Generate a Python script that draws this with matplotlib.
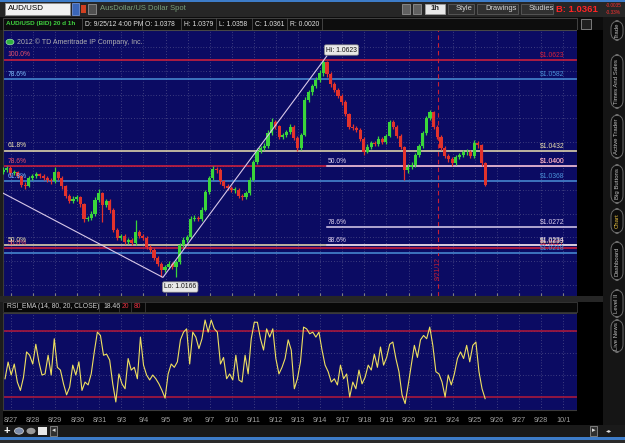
import numpy as np
import matplotlib
matplotlib.use("Agg")
import matplotlib.pyplot as plt
from matplotlib.patches import Rectangle, FancyBboxPatch, Circle
from matplotlib.lines import Line2D

W, H = 625, 443

# AUD/USD at 4h steps, price x 10000
closes = [
    10392, 10396, 10385, 10387, 10379, 10360, 10358, 10375, 10379, 10383,
    10379, 10375, 10371, 10368, 10387, 10375, 10358, 10337, 10327, 10331,
    10335, 10320, 10289, 10291, 10299, 10329, 10343, 10318, 10326, 10308,
    10266, 10249, 10253, 10240, 10244, 10238, 10261, 10253, 10249, 10230,
    10224, 10207, 10195, 10182, 10188, 10195, 10188, 10198, 10234, 10245,
    10251, 10289, 10291, 10289, 10308, 10345, 10375, 10394, 10392, 10368,
    10358, 10354, 10350, 10350, 10337, 10335, 10343, 10371, 10408, 10432,
    10438, 10442, 10469, 10492, 10484, 10461, 10465, 10471, 10482, 10459,
    10438, 10465, 10539, 10555, 10568, 10581, 10595, 10618, 10593, 10572,
    10560, 10547, 10534, 10509, 10482, 10480, 10476, 10457, 10430, 10440,
    10448, 10446, 10457, 10451, 10463, 10492, 10482, 10463, 10440, 10392,
    10398, 10402, 10423, 10442, 10469, 10501, 10513, 10482, 10461, 10438,
    10421, 10415, 10406, 10419, 10423, 10429, 10429, 10421, 10448, 10444,
    10406, 10361,
]
highs = [
    10398, 10401, 10399, 10392, 10390, 10382, 10366, 10379, 10384, 10388,
    10386, 10383, 10379, 10375, 10398, 10390, 10378, 10361, 10341, 10336,
    10340, 10338, 10323, 10296, 10305, 10334, 10352, 10346, 10331, 10330,
    10311, 10270, 10258, 10257, 10249, 10248, 10286, 10265, 10258, 10252,
    10234, 10228, 10210, 10198, 10193, 10200, 10199, 10203, 10238, 10250,
    10256, 10294, 10297, 10295, 10313, 10350, 10380, 10401, 10398, 10395,
    10371, 10362, 10358, 10356, 10354, 10341, 10348, 10376, 10413, 10437,
    10443, 10448, 10475, 10500, 10496, 10487, 10470, 10476, 10488, 10486,
    10462, 10470, 10544, 10560, 10573, 10586, 10601, 10623, 10621, 10597,
    10576, 10564, 10551, 10538, 10512, 10488, 10485, 10480, 10461, 10446,
    10453, 10452, 10462, 10461, 10468, 10497, 10496, 10486, 10467, 10443,
    10404, 10408, 10428, 10447, 10474, 10506, 10518, 10516, 10486, 10465,
    10442, 10425, 10419, 10424, 10428, 10434, 10435, 10433, 10455, 10452,
    10447, 10409,
]
lows = [
    10383, 10388, 10380, 10381, 10374, 10355, 10352, 10355, 10371, 10375,
    10374, 10370, 10366, 10362, 10365, 10370, 10352, 10332, 10322, 10323,
    10327, 10314, 10283, 10284, 10287, 10296, 10325, 10282, 10313, 10302,
    10261, 10244, 10245, 10236, 10236, 10233, 10235, 10248, 10244, 10225,
    10219, 10202, 10189, 10166, 10177, 10184, 10183, 10167, 10195, 10230,
    10241, 10248, 10284, 10284, 10285, 10305, 10341, 10371, 10386, 10363,
    10353, 10349, 10345, 10344, 10333, 10329, 10331, 10340, 10368, 10404,
    10428, 10433, 10438, 10465, 10478, 10456, 10457, 10460, 10467, 10454,
    10432, 10433, 10462, 10534, 10550, 10563, 10576, 10590, 10588, 10567,
    10555, 10542, 10529, 10504, 10477, 10475, 10471, 10452, 10424, 10427,
    10436, 10441, 10442, 10446, 10447, 10460, 10478, 10458, 10435, 10371,
    10385, 10393, 10398, 10419, 10438, 10465, 10496, 10477, 10456, 10433,
    10416, 10409, 10400, 10402, 10414, 10418, 10423, 10416, 10417, 10438,
    10401, 10358,
]
first_open = 10388
first_bar_day = -0.36   # days counted from 8/27
bars_per_day = 6

# RSI_EMA (14, 80, 20, CLOSE), read at even steps over the same span
rsi = [
    36.6, 51.8, 40, 50, 33.6, 26, 38, 61, 58, 50,
    68, 52, 40, 41, 58, 40, 73, 47, 44.5, 32,
    22, 29, 49, 40, 52, 26, 33.6, 31, 41, 61,
    79, 76, 58, 59, 53.6, 32, 15.5, 41, 32, 27.5,
    55, 44.5, 47, 36.6, 74.5, 49, 40, 35.5, 40, 36.6,
    32, 26, 19, 41, 50, 47, 52, 72, 79, 82,
    50, 79, 74.5, 64, 73, 90, 79, 90, 82, 79,
    50, 56, 36.6, 41, 35.5, 58, 35.5, 33.6,
    58, 41, 73, 88, 88, 73, 62.7, 82, 74.5, 82,
    55, 41, 47, 55, 72, 62.7, 27.5, 36.6, 52, 83.6,
    82, 77.5, 79, 74.5, 79, 62.7, 49, 43, 33.6, 36.6,
    31, 49, 36.6, 41, 20, 33.6, 27.5, 44.5, 32, 38,
    49, 44.5, 59, 47, 65.5, 49, 56, 68, 70, 55,
    43, 22, 14, 31, 49, 67, 56, 72, 76, 73,
    83.6, 67, 43, 41, 33.6, 20, 40, 31, 41, 55,
    61, 55, 67, 52, 67, 70, 43, 27.5, 18.5,
]
rsi_first_day = -0.27
rsi_last_day = 21.47
rsi_last = 18.46
rsi_bands = [20, 80]
rsi_ticks = [40, 60, 80]

price_ticks = [1.015, 1.02, 1.025, 1.03, 1.035, 1.04, 1.045, 1.05, 1.055, 1.06, 1.065]
date_labels = ["8/27", "8/28", "8/29", "8/30", "8/31", "9/3", "9/4", "9/5", "9/6", "9/7",
               "9/10", "9/11", "9/12", "9/13", "9/14", "9/17", "9/18", "9/19", "9/20", "9/21",
               "9/24", "9/25", "9/26", "9/27", "9/28", "10/1"]

# fibonacci retracement drawings
fib_red = [1.0623, 1.0400, 1.0227]
fib_red_pct = ["100.0%", "78.6%", "50.0%"]
fib_blue = [1.0582, 1.0368, 1.0218]
fib_blue_pct = ["78.6%", "61.8%", ""]
fib_cream = [1.0432, 1.0233]
fib_cream_pct = ["61.8%", "50.0%"]
fib_white = [1.0400, 1.0272, 1.0234]
fib_white_pct = ["50.0%", "78.6%", "88.6%"]
fib_white_start = 14.3

trend_days = [-0.36, 6.88, 14.3]
trend_prices = [1.0343, 1.0166, 1.0631]
swing_high, swing_high_day = 1.0623, 14.14
swing_low, swing_low_day = 1.0166, 6.81
marker_day = 19.34
last_price = 1.0361

UP = "#3ad63a"
DOWN = "#e2322c"
RED = "#d8203a"
BLUE = "#4a90d8"
CREAM = "#eee2b0"
WHITE = "#ddd0ee"
GRID = "#6a6a9a"
BG = "#0b0b63"
LABEL = "#a0a0a0"

plt.rcParams["font.family"] = ["Liberation Sans", "DejaVu Sans"]
fig = plt.figure(figsize=(W / 100, H / 100), dpi=100, facecolor="#000000")


def px_rect(x0, y0, x1, y1, face, edge="none", lw=0.6, z=0.5):
    fig.add_artist(Rectangle((x0 / W, 1 - y1 / H), (x1 - x0) / W, (y1 - y0) / H,
                             transform=fig.transFigure, facecolor=face,
                             edgecolor=edge, lw=lw, zorder=z))


def px_line(x0, y0, x1, y1, color, lw=0.6):
    fig.add_artist(Line2D([x0 / W, x1 / W], [1 - y0 / H, 1 - y1 / H],
                          transform=fig.transFigure, color=color, lw=lw, zorder=2))


def px_text(x, y, s, **kw):
    kw.setdefault("va", "center")
    kw.setdefault("fontsize", 5)
    kw.setdefault("color", "#d0d0d0")
    fig.text(x / W, 1 - y / H, s, zorder=5, **kw)


def px_tab(x0, y0, x1, y1, s, color="#c0c0c0"):
    fig.add_artist(FancyBboxPatch((x0 / W, 1 - y1 / H), (x1 - x0) / W, (y1 - y0) / H,
                                  boxstyle="round,pad=0,rounding_size=0.012",
                                  mutation_aspect=W / H, transform=fig.transFigure,
                                  facecolor="#0c0c0c", edgecolor="#6a6a6a", lw=0.7, zorder=2))
    px_text((x0 + x1) / 2, (y0 + y1) / 2, s, rotation=90, ha="center",
            fontsize=4.3, color=color)


# ---- window chrome ----
px_rect(0, 0, W, 17, "#262626")
px_rect(0, 0, W, 1.5, "#3d7cc9", z=1)
px_rect(0, 17, 603, 30, "#0d0d0d")
px_rect(3, 18, 577, 30, "none", edge="#4a4a4a")
px_rect(0, 30, 3, 425, "#1c1c1c")
px_rect(577, 30, 603, 425, "#000000")
px_rect(603, 17, W, 425, "#151515")
px_rect(0, 296, 603, 302, "#262626")
px_rect(3, 302, 577, 312, "#080808", edge="#3a3a3a")
px_rect(0, 425, W, 437, "#1a1a1a")
px_rect(0, 437, W, 439.5, "#3d7cc9", z=1)
px_rect(0, 439.5, W, H, "#2a2a2a")

# top toolbar
px_rect(5, 3, 70, 15, "#f2f2f2", edge="#909090")
px_text(8, 9, "AUD/USD", color="#000000", fontsize=5.8)
px_rect(72, 3, 79, 15, "#3a66b8", edge="#7090d0")
px_rect(81, 5, 86, 13, "#d04020")
px_rect(88, 4, 96, 14, "#505050", edge="#909090")
px_text(100, 9, "AusDollar/US Dollar Spot", color="#7aa07a", fontsize=5.5)
px_rect(402, 4, 410, 14, "#606060", edge="#909090")
px_rect(413, 4, 421, 14, "#606060", edge="#909090")
px_rect(425, 4, 445, 14, "#e8e8e8", edge="#a0a0a0")
px_text(435, 9, "1h", color="#202020", ha="center", fontsize=5.5, fontweight="bold")
for x0, x1, s in [(448, 474, "Style"), (477, 518, "Drawings"), (521, 553, "Studies")]:
    px_rect(x0, 4, x1, 14, "#303030", edge="#5a5a5a")
    px_text(x0 + 8, 9, s, color="#d8d8d8", fontsize=5.4)
px_text(556, 9, "B: 1.0361", color="#ff2424", fontsize=6.8, fontweight="bold")
px_text(606, 5.5, "-0.0035", color="#ff3030", fontsize=3.4)
px_text(606, 12, "-0.33%", color="#ff3030", fontsize=3.4)

# info row
px_text(6, 24, "AUD/USD (BID) 20 d 1h", color="#3fd03f", fontsize=4.6, fontweight="bold")
for xs in [82, 142, 181, 216, 252, 287, 322]:
    px_line(xs, 18, xs, 30, "#4a4a4a")
for xs, s in [(85, "D: 9/25/12 4:00 PM"), (145, "O: 1.0378"), (184, "H: 1.0379"),
              (219, "L: 1.0358"), (255, "C: 1.0361"), (290, "R: 0.0020")]:
    px_text(xs, 24, s, color="#e0e0e0", fontsize=4.9)
px_rect(581, 19, 591, 29, "#202020", edge="#8a8a8a")

# side tabs
px_tab(611, 21, 623, 40, "Trade")
for y0, y1, s in [(55, 108, "Times And Sales"), (115, 158, "Active Trader"),
                  (165, 203, "Big Buttons"), (242, 280, "Dashboard"),
                  (290, 317, "Level II"), (320, 352, "Live News")]:
    px_tab(611, y0, 623, y1, s)
px_tab(611, 209, 623, 233, "Chart", color="#e8c040")

# bottom toolbar
px_text(7, 431, "+", color="#ffffff", fontsize=8, ha="center", fontweight="bold")
fig.add_artist(Circle((19 / W, 1 - 431 / H), 4.5 / W, transform=fig.transFigure,
                      facecolor="#7a8aa8", edgecolor="#dddddd", lw=0.5, zorder=2))
fig.add_artist(Circle((31 / W, 1 - 431 / H), 4.5 / W, transform=fig.transFigure,
                      facecolor="#9a9a9a", edgecolor="none", zorder=2))
px_rect(38, 427, 47, 435, "#e8e8e8", z=2)
px_rect(50, 426, 57, 436, "#303030", edge="#8a8a8a", z=2)
px_text(53.5, 431, "◂", color="#dddddd", ha="center", fontsize=5)
px_rect(590, 426, 597, 436, "#303030", edge="#8a8a8a", z=2)
px_text(593.5, 431, "▸", color="#dddddd", ha="center", fontsize=5)
px_text(606, 431, "◂▸", color="#dddddd", fontsize=4.5)

# ---- price panel ----
ax = fig.add_axes([3 / W, 1 - 296 / H, 574 / W, 266 / H], facecolor=BG)
ax.set_xlim(-0.362, 25.63)
ax.set_ylim(1.01269, 1.06857)
ax.set_xticks(range(len(date_labels)))
ax.set_xticklabels([])
ax.set_yticks(price_ticks)
ax.set_yticklabels([f"{t:g}" for t in price_ticks])
ax.yaxis.tick_right()
ax.tick_params(axis="y", length=3, color="#808080", pad=1.5, labelsize=5.2, labelcolor=LABEL)
ax.tick_params(axis="x", length=2, color="#808080", direction="in")
ax.grid(True, color=GRID, ls=(0, (1, 3)), lw=0.5)
ax.set_axisbelow(True)
for sp in ax.spines.values():
    sp.set_color("#3a3a3a")

c = np.array(closes) / 1e4
o = np.r_[first_open / 1e4, c[:-1]]
hi = np.array(highs) / 1e4
lo = np.array(lows) / 1e4
bx = first_bar_day + np.arange(len(c)) / bars_per_day
colors = np.where(c >= o, UP, DOWN)
ax.vlines(bx, lo, hi, colors=colors, lw=0.9, zorder=3)
ax.bar(bx, np.maximum(np.abs(c - o), 0.0001), bottom=np.minimum(o, c),
       width=0.85 / bars_per_day, color=colors, lw=0, zorder=3)

xmin, xmax = ax.get_xlim()
label_left = -0.15
label_right = 23.95


def fib_set(levels, pcts, color, start=None, pct_color=None, z=2):
    for p, pct in zip(levels, pcts):
        x0 = xmin if start is None else start
        ax.plot([x0, xmax], [p, p], color=color, lw=1.1, zorder=z)
        lx = label_left if start is None else start + 0.05
        if pct:
            ax.annotate(pct, (lx, p), xytext=(0, 1), textcoords="offset points",
                        fontsize=4.9, color=pct_color or color, va="bottom", zorder=z + 2)
        ax.annotate(f"${p:.4f}", (label_right, p), xytext=(0, 1), textcoords="offset points",
                    fontsize=4.9, color=color, va="bottom", zorder=z + 2)


fib_set(fib_red, fib_red_pct, RED, pct_color="#e8506a")
fib_set(fib_blue, fib_blue_pct, BLUE, pct_color="#7fbfff")
fib_set(fib_cream, fib_cream_pct, CREAM)
fib_set(fib_white, fib_white_pct, WHITE, start=fib_white_start, z=2.5)

ax.plot(trend_days, trend_prices, color="#d8c8e8", lw=0.8, zorder=4)

ax.axvline(marker_day, color="#c82034", lw=0.8, ls=(0, (4, 3)), zorder=2)
ax.text(marker_day, 1.0185, "9/21/12", rotation=90, color="#c82034", fontsize=4.9,
        ha="center", va="center", zorder=5,
        bbox=dict(boxstyle="square,pad=0.1", facecolor=BG, edgecolor="none"))

box = dict(boxstyle="round,pad=0.25", facecolor="#e8e8e8", edgecolor="#808080", lw=0.5)
ax.annotate("Hi: 1.0623", (swing_high_day, swing_high), xytext=(2, 6),
            textcoords="offset points", fontsize=4.9, color="#101010", bbox=box, zorder=6)
ax.annotate("Lo: 1.0166", (swing_low_day, swing_low), xytext=(2, -8),
            textcoords="offset points", fontsize=4.9, color="#101010", bbox=box, zorder=6)

ax.annotate(f"{last_price:.4f}", (1, last_price), xycoords=("axes fraction", "data"),
            xytext=(2, 0), textcoords="offset points", fontsize=5, color="#ffffff",
            va="center", annotation_clip=False, zorder=7,
            bbox=dict(boxstyle="square,pad=0.2", facecolor="#e01818", edgecolor="#ff6060", lw=0.4))

fig.add_artist(Circle((10 / W, 1 - 42 / H), 4 / W, transform=fig.transFigure,
                      facecolor="#30b040", edgecolor="#c0ffc0", lw=0.4, zorder=6))
px_text(10, 42, "i", color="#ffffff", ha="center", fontsize=4.5, fontweight="bold")
px_text(17, 42, "2012 © TD Ameritrade IP Company, Inc.", color="#b0b0b0", fontsize=5)

# ---- RSI panel ----
px_text(7, 307, "RSI_EMA (14, 80, 20, CLOSE)", color="#d0d0d0", fontsize=4.9)
for xs in [99, 119, 131, 145]:
    px_line(xs, 302, xs, 312, "#3a3a3a")
px_text(103, 307, f"{rsi_last:.2f}", color="#d0d0d0", fontsize=4.9)
px_text(122, 307, "20", color="#e03040", fontsize=4.9)
px_text(134, 307, "80", color="#e03040", fontsize=4.9)

ar = fig.add_axes([3 / W, 1 - 410 / H, 574 / W, 97 / H], facecolor=BG)
ar.set_xlim(-0.362, 25.63)
ar.set_ylim(8.2, 96.4)
ar.set_xticks(range(len(date_labels)))
ar.set_xticklabels(date_labels)
ar.set_yticks(rsi_ticks)
ar.yaxis.tick_right()
ar.tick_params(axis="y", length=3, color="#808080", pad=1.5, labelsize=5.2, labelcolor=LABEL)
ar.tick_params(axis="x", length=0, pad=5, labelsize=5.2, labelcolor=LABEL)
ar.grid(True, color=GRID, ls=(0, (1, 3)), lw=0.5)
ar.set_axisbelow(True)
for sp in ar.spines.values():
    sp.set_color("#3a3a3a")
for b in rsi_bands:
    ar.axhline(b, color="#a8183c", lw=1.2, zorder=2)

rx = np.linspace(rsi_first_day, rsi_last_day, len(rsi))
ar.plot(rx, rsi, color="#efe060", lw=0.8, zorder=3)
ar.annotate(f"{rsi_last:.2f}", (1, rsi_last), xycoords=("axes fraction", "data"),
            xytext=(2, 0), textcoords="offset points", fontsize=5, color="#000000",
            va="center", annotation_clip=False, zorder=7,
            bbox=dict(boxstyle="round,pad=0.2", facecolor="#ffff00", edgecolor="none"))

fig.savefig("out.png", dpi=100, facecolor=fig.get_facecolor())
